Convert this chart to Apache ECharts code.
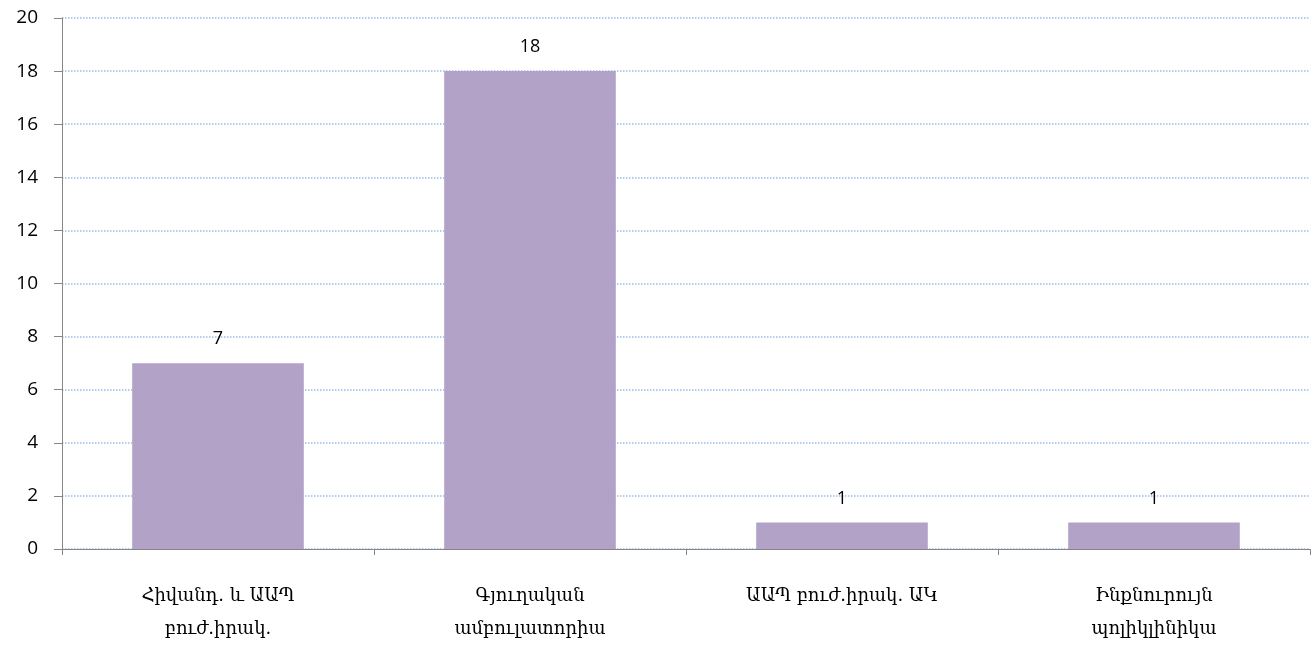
<!DOCTYPE html>
<html>
<head>
<meta charset="utf-8">
<script src="https://cdn.jsdelivr.net/npm/echarts@6/dist/echarts.min.js"></script>
<style>
  html, body { margin: 0; padding: 0; background: #fff; }
  #chart { width: 1316px; height: 646px; }
</style>
</head>
<body>
<div id="chart"></div>
<script>
var categories = ['Հիվանդ. և ԱԱՊ\nբուժ.իրակ.', 'Գյուղական\nամբուլատորիա', 'ԱԱՊ բուժ.իրակ. ԱԿ', 'Ինքնուրույն\nպոլիկլինիկա'];
var values = [7, 18, 1, 1];

var chart = echarts.init(document.getElementById('chart'));
chart.setOption({
  animation: false,
  grid: { left: 62, right: 6, top: 18, bottom: 96 },
  xAxis: {
    type: 'category',
    data: categories,
    axisLine: { lineStyle: { color: '#868686' } },
    axisTick: { show: true, length: 6, lineStyle: { color: '#868686' } },
    axisLabel: {
      color: '#000',
      fontFamily: 'DejaVu Serif',
      fontSize: 18,
      lineHeight: 33,
      margin: 31
    }
  },
  yAxis: {
    type: 'value',
    min: 0,
    max: 20,
    interval: 2,
    axisLine: { show: true, lineStyle: { color: '#868686' } },
    axisTick: { show: true, length: 8, lineStyle: { color: '#868686' } },
    axisLabel: { color: '#000', fontFamily: 'Open Sans', fontSize: 19, margin: 24 },
    splitLine: { lineStyle: { color: '#9dbde6', type: 'dotted', width: 1.5 } }
  },
  series: [{
    type: 'bar',
    data: values,
    barWidth: '55%',
    itemStyle: { color: '#b2a2c7' },
    label: {
      show: true,
      position: 'top',
      distance: 15,
      color: '#000',
      fontFamily: 'Open Sans',
      fontSize: 18
    }
  }]
});
</script>
</body>
</html>
